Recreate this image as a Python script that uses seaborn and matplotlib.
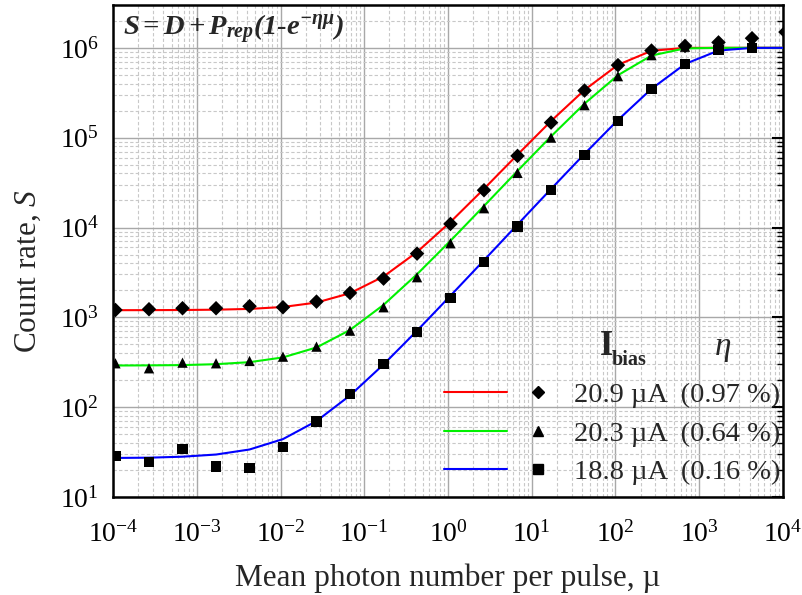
import numpy as np
import pandas as pd
import matplotlib
matplotlib.use("Agg")
import matplotlib.pyplot as plt
import seaborn as sns
from matplotlib.legend_handler import HandlerTuple
from matplotlib.lines import Line2D
from matplotlib.ticker import LogLocator, NullFormatter

# ---------------- data ----------------
mu = [1.07e-4, 2.69e-4, 6.76e-4, 1.70e-3, 4.27e-3, 1.07e-2, 2.69e-2, 6.76e-2,
      0.170, 0.427, 1.07, 2.69, 6.76, 17.0, 42.7, 107, 269, 676, 1698, 4266, 10700]

s_209 = [1208, 1231, 1263, 1263, 1330, 1295, 1496, 1870, 2698, 5120, 10960,
         26020, 62700, 147300, 334800, 641700, 933000, 1050000, 1150000, 1280000, 1500000]
s_203 = [308, 271, 313, 308, 327, 365, 472, 711, 1295, 2797, 6680,
         16400, 40550, 100200, 230000, 484000, 829000, 1030000, 1110000, 1170000]
s_188 = [28.8, 24.7, 34.0, 21.8, 20.9, 35.8, 69, 140, 300, 683, 1644,
         4140, 10240, 26000, 63800, 152700, 346700, 658000, 950000, 1000000]

mu_fit = [1e-4, 2.69e-4, 6.76e-4, 1.70e-3, 4.27e-3, 1.07e-2, 2.69e-2, 6.76e-2,
          0.170, 0.427, 1.07, 2.69, 6.76, 17.0, 42.7, 107, 269, 676, 1698, 4266, 1e4]
fit_209 = [1201, 1203, 1207, 1217, 1241, 1304, 1461, 1856, 2849, 5333, 11526,
           26950, 64670, 153200, 340300, 647000, 927600, 999800, 1001200, 1001200, 1001200]
fit_203 = [291, 292, 294, 301, 317, 358, 462, 723, 1377, 3019, 7115,
           17359, 42630, 103390, 239390, 496090, 821490, 987090, 1000290, 1000290, 1000290]
fit_188 = [27.2, 27.4, 28.1, 29.7, 33.8, 44.1, 70, 135, 299, 710, 1739,
           4322, 10785, 26857, 66067, 157327, 349827, 661027, 933927, 998927, 1000027]

labels = ["20.9 \u00b5A  (0.97 %)", "20.3 \u00b5A  (0.64 %)", "18.8 \u00b5A  (0.16 %)"]
line_colors = ["#ff0000", "#00f000", "#0000ff"]
markers = ["D", "^", "s"]

pts = pd.concat([
    pd.DataFrame({"mu": mu[:len(s)], "S": s, "series": lab})
    for s, lab in zip([s_209, s_203, s_188], labels)
], ignore_index=True)
fits = pd.concat([
    pd.DataFrame({"mu": mu_fit, "S": f, "series": lab})
    for f, lab in zip([fit_209, fit_203, fit_188], labels)
], ignore_index=True)

# ---------------- style ----------------
sns.set_style("white")
plt.rcParams["font.family"] = ["Liberation Serif", "DejaVu Serif"]
plt.rcParams["mathtext.fontset"] = "custom"
plt.rcParams["mathtext.rm"] = "Liberation Serif"
plt.rcParams["mathtext.it"] = "Liberation Serif:italic"
plt.rcParams["mathtext.bf"] = "Liberation Serif:bold"
plt.rcParams["mathtext.bfit"] = "Liberation Serif:italic:bold"

fig = plt.figure(figsize=(8.03, 5.95), dpi=100)
ax = fig.add_axes([113 / 803, 98 / 595, 670 / 803, 492 / 595])

sns.lineplot(data=fits, x="mu", y="S", hue="series", palette=line_colors,
             hue_order=labels, ax=ax, lw=1.5, legend=False, zorder=3)
sns.scatterplot(data=pts, x="mu", y="S", style="series", markers=markers,
                style_order=labels, color="black", s=55, edgecolor="black",
                linewidth=0, ax=ax, legend=False, zorder=4, clip_on=True)

ax.set_xscale("log")
ax.set_yscale("log")
ax.set_xlim(1e-4, 1e4)
ax.set_ylim(10, 3e6)

ax.xaxis.set_major_locator(LogLocator(base=10, numticks=20))
ax.xaxis.set_minor_locator(LogLocator(base=10, subs=np.arange(2, 10), numticks=200))
ax.yaxis.set_major_locator(LogLocator(base=10, numticks=20))
ax.yaxis.set_minor_locator(LogLocator(base=10, subs=np.arange(2, 10), numticks=200))
ax.xaxis.set_minor_formatter(NullFormatter())
ax.yaxis.set_minor_formatter(NullFormatter())

ax.grid(True, which="major", color="#a8a8a8", lw=1.0, ls="-", zorder=0)
ax.grid(True, which="minor", color="#c8c8c8", lw=0.8, ls=(0, (3, 2)), zorder=0)
ax.set_axisbelow(True)

ax.tick_params(which="major", direction="out", length=8, width=1.5,
               labelsize=20, color="black", labelcolor="black")
ax.tick_params(which="minor", direction="out", length=4.5, width=1.0, color="black")
ax.tick_params(axis="x", which="major", pad=9)
ax.tick_params(axis="y", which="major", pad=2)
ax.tick_params(axis="y", which="both", right=True, labelright=False)
for t in ax.yaxis.get_ticklines(minor=True)[1::2] + ax.yaxis.get_ticklines()[1::2]:
    t.set_marker(matplotlib.markers.TICKLEFT)

for sp in ax.spines.values():
    sp.set_color("black")
    sp.set_linewidth(1.8)

ax.set_xlabel("Mean photon number per pulse, \u00b5", fontsize=22.5, labelpad=12)
ax.set_ylabel("Count rate, $\\mathit{S}$", fontsize=22.5)
ax.yaxis.set_label_coords(-0.104, 0.459)

ax.text(0.015, 0.985, r"$\mathbfit{S = D + P_{rep}(1\text{-}e^{-\eta\mu})}$",
        transform=ax.transAxes, fontsize=20.5, ha="left", va="top")

# legend
handles = []
for c, m in zip(line_colors, markers):
    ln = Line2D([], [], color=c, lw=1.5)
    mk = Line2D([], [], color="black", marker=m, ls="none", markersize=6.5)
    handles.append((ln, mk))
leg = ax.legend(handles, labels, handler_map={tuple: HandlerTuple(ndivide=None, pad=0)},
                loc="lower right", bbox_to_anchor=(1.0, 0.018), frameon=False,
                fontsize=20.5, handlelength=4.4, handletextpad=0.15,
                labelspacing=0.45, borderpad=0.1, borderaxespad=0)
ax.text(0.727, 0.305, "I", transform=ax.transAxes, fontsize=25,
        fontweight="bold", ha="left", va="center")
ax.text(0.745, 0.278, "bias", transform=ax.transAxes, fontsize=14.5,
        fontweight="bold", ha="left", va="center")
ax.text(0.91, 0.302, r"$\eta$", transform=ax.transAxes,
        fontsize=24, ha="center", va="center")

fig.savefig("out.png", dpi=100)
